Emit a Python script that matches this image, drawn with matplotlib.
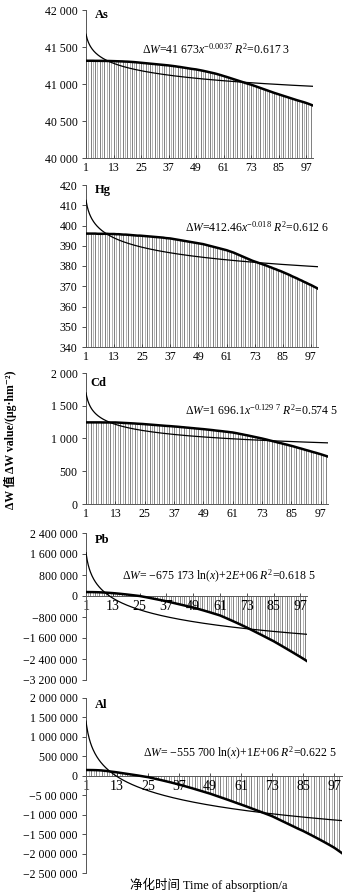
import numpy as np
import matplotlib.pyplot as plt

plt.rcParams['font.family'] = ['Liberation Serif', 'Noto Sans CJK SC', 'DejaVu Serif']
plt.rcParams['mathtext.fontset'] = 'custom'
plt.rcParams['mathtext.rm'] = 'Liberation Serif'
plt.rcParams['mathtext.it'] = 'Liberation Serif:italic'

# 净化时间 (a)
years = np.arange(1, 101)
xticks = [1, 13, 25, 37, 49, 61, 73, 85, 97]

# ΔW values
as_vals = [41314, 41314, 41314, 41314, 41313, 41313, 41313, 41312, 41312, 41311, 41311, 41310,
           41309, 41308, 41307, 41306, 41305, 41303, 41302, 41300, 41298, 41296, 41293, 41290,
           41287, 41284, 41281, 41278, 41275, 41272, 41269, 41266, 41263, 41260, 41257, 41254,
           41251, 41247, 41243, 41239, 41234, 41230, 41225, 41220, 41215, 41210, 41205, 41201,
           41197, 41191, 41185, 41179, 41172, 41165, 41158, 41151, 41144, 41136, 41127, 41118,
           41108, 41099, 41089, 41079, 41069, 41059, 41049, 41039, 41029, 41019, 41009, 41000,
           40991, 40980, 40969, 40958, 40947, 40936, 40925, 40914, 40903, 40892, 40881, 40871,
           40861, 40851, 40841, 40831, 40821, 40811, 40801, 40791, 40781, 40772, 40763, 40754,
           40744, 40733, 40721, 40709]

hg_vals = [396.0, 396.0, 396.0, 396.0, 396.0, 395.9, 395.9, 395.9, 395.9, 395.9, 395.8, 395.8,
           395.8, 395.7, 395.7, 395.6, 395.5, 395.5, 395.4, 395.3, 395.2, 395.1, 395.0, 395.0,
           394.9, 394.8, 394.7, 394.6, 394.5, 394.4, 394.3, 394.2, 394.1, 394.0, 393.8, 393.7,
           393.6, 393.4, 393.2, 393.0, 392.8, 392.6, 392.4, 392.2, 392.0, 391.8, 391.6, 391.4,
           391.2, 391.0, 390.8, 390.5, 390.2, 389.9, 389.6, 389.3, 389.0, 388.7, 388.4, 388.1,
           387.8, 387.4, 387.0, 386.6, 386.1, 385.6, 385.1, 384.6, 384.1, 383.6, 383.1, 382.6,
           382.2, 381.8, 381.4, 381.0, 380.6, 380.2, 379.7, 379.3, 378.8, 378.4, 377.9, 377.5,
           377.0, 376.5, 376.0, 375.5, 374.9, 374.4, 373.9, 373.3, 372.8, 372.2, 371.7, 371.1,
           370.6, 370.0, 369.4, 368.8]

cd_vals = [1246, 1246, 1246, 1246, 1246, 1246, 1246, 1245, 1245, 1245, 1245, 1245,
           1245, 1243, 1241, 1239, 1237, 1235, 1233, 1231, 1229, 1226, 1224, 1222,
           1219, 1216, 1213, 1210, 1207, 1204, 1201, 1198, 1195, 1192, 1190, 1187,
           1184, 1181, 1178, 1174, 1171, 1167, 1164, 1160, 1157, 1153, 1150, 1146,
           1143, 1139, 1135, 1131, 1127, 1122, 1118, 1114, 1110, 1105, 1101, 1096,
           1092, 1085, 1078, 1070, 1063, 1055, 1048, 1040, 1032, 1024, 1016, 1008,
           1000, 991, 982, 972, 963, 954, 944, 935, 926, 916, 907, 897,
           888, 878, 867, 856, 846, 835, 824, 814, 803, 792, 782, 771,
           760, 748, 736, 724]

pb_vals = [150000, 150000, 149000, 148000, 146000, 144000, 141000, 137000, 133000, 128000, 122000, 116000,
           110000, 103000, 95000, 87000, 78000, 69000, 60000, 50000, 40000, 30000, 20000, 10000,
           0, -16000, -32000, -48000, -64000, -81000, -98000, -115000, -132000, -149000, -166000, -183000,
           -200000, -220000, -240000, -260000, -280000, -300000, -320000, -340000, -360000, -380000, -400000, -420000,
           -440000, -463000, -486000, -510000, -534000, -559000, -584000, -609000, -635000, -661000, -687000, -713000,
           -740000, -776000, -813000, -850000, -888000, -926000, -964000, -1002000, -1041000, -1080000, -1120000, -1160000,
           -1200000, -1243000, -1286000, -1329000, -1372000, -1415000, -1458000, -1501000, -1545000, -1589000, -1633000, -1677000,
           -1720000, -1769000, -1818000, -1867000, -1917000, -1967000, -2017000, -2067000, -2117000, -2168000, -2219000, -2270000,
           -2320000, -2373000, -2426000, -2480000]

al_vals = [148000, 148000, 147000, 146000, 144000, 141000, 137000, 130000, 123000, 114000, 105000, 97000,
           88000, 78000, 68000, 58000, 48000, 38000, 28000, 18000, 8000, -3000, -14000, -25000,
           -35000, -50000, -65000, -80000, -95000, -110000, -126000, -142000, -158000, -174000, -191000, -208000,
           -225000, -244000, -263000, -282000, -301000, -320000, -340000, -360000, -380000, -400000, -420000, -440000,
           -460000, -483000, -506000, -529000, -552000, -575000, -598000, -621000, -645000, -669000, -693000, -717000,
           -740000, -764000, -788000, -813000, -838000, -863000, -888000, -913000, -938000, -963000, -988000, -1014000,
           -1040000, -1072000, -1104000, -1136000, -1168000, -1200000, -1232000, -1264000, -1296000, -1328000, -1360000, -1390000,
           -1420000, -1454000, -1488000, -1522000, -1557000, -1592000, -1627000, -1663000, -1699000, -1736000, -1773000, -1811000,
           -1850000, -1896000, -1943000, -1990000]

# trend lines shown on the chart
as_fit = (41673, -0.0037)      # power
hg_fit = (412.46, -0.018)      # power
cd_fit = (1696.1, -0.1297)     # power
pb_fit = (-675173, 1650000)    # log
al_fit = (-555700, 1406000)    # log

as_yticks = [40000, 40500, 41000, 41500, 42000]
as_ylabels = ['40 000', '40 500', '41 000', '41 500', '42 000']
hg_yticks = [340, 350, 360, 370, 380, 390, 400, 410, 420]
hg_ylabels = ['340', '350', '360', '370', '380', '390', '400', '410', '420']
cd_yticks = [0, 500, 1000, 1500, 2000]
cd_ylabels = ['0', '500', '1 000', '1 500', '2 000']
pb_yticks = [-3200000, -2400000, -1600000, -800000, 0, 800000, 1600000, 2400000]
pb_ylabels = ['\u22123 200 000', '\u22122 400 000', '\u22121 600 000', '\u2212800 000', '0',
              '800 000', '1 600 000', '2 400 000']
al_yticks = [-2500000, -2000000, -1500000, -1000000, -500000, 0, 500000, 1000000, 1500000, 2000000]
al_ylabels = ['\u22122 500 000', '\u22122 000 000', '\u22121 500 000', '\u22121 000 000', '\u22125 00 000', '0',
              '500 000', '1 000 000', '1 500 000', '2 000 000']

as_eq = r'$\Delta W$=41 673$x^{-0.0037}$ $R^2$=0.617 3'
hg_eq = r'$\Delta W$=412.46$x^{-0.018}$ $R^2$=0.612 6'
cd_eq = r'$\Delta W$=1 696.1$x^{-0.129\ 7}$ $R^2$=0.574 5'
pb_eq = r'$\Delta W$= $-$675 173 ln($x$)+2$E$+06 $R^2$=0.618 5'
al_eq = r'$\Delta W$= $-$555 700 ln($x$)+1$E$+06 $R^2$=0.622 5'

W, H = 353, 896
fig = plt.figure(figsize=(W / 100, H / 100), dpi=100)

panels = [
    # name, values, kind, fit, yticks, labels, (left, right, top, bottom) px, eq, eq pos, name pos
    ('As', as_vals, 'pow', as_fit, as_yticks, as_ylabels, (86, 313, 10, 158), as_eq, (142, 49), (95, 15)),
    ('Hg', hg_vals, 'pow', hg_fit, hg_yticks, hg_ylabels, (86, 318, 185, 347), hg_eq, (185, 227), (95, 190)),
    ('Cd', cd_vals, 'pow', cd_fit, cd_yticks, cd_ylabels, (86, 328, 373, 504), cd_eq, (185, 410), (90, 383)),
    ('Pb', pb_vals, 'log', pb_fit, pb_yticks, pb_ylabels, (86, 307, 533, 680), pb_eq, (122, 576), (95, 540)),
    ('Al', al_vals, 'log', al_fit, al_yticks, al_ylabels, (86, 342, 698, 873), al_eq, (143, 753), (95, 705)),
]

xs = np.linspace(1, 100, 400)
for name, vals, kind, fit, yt, yl, box, eq, eqpos, npos in panels:
    l, r, t, b = box
    ax = fig.add_axes([l / W, 1 - b / H, (r - l) / W, (b - t) / H])
    vals = np.array(vals, dtype=float)
    lo = yt[0]
    base = lo if lo > 0 else 0
    # thin columns, alternating grey shades like the scanned figure
    ax.vlines(years[::2], base, vals[::2], colors='#6a6a6a', lw=0.6, zorder=1)
    ax.vlines(years[1::2], base, vals[1::2], colors='#a8a8a8', lw=0.6, zorder=1)
    ax.plot(years, vals, color='black', lw=1.8, zorder=3)
    if kind == 'pow':
        trend = fit[0] * xs ** fit[1]
    else:
        trend = fit[0] * np.log(xs) + fit[1]
    ax.plot(xs, trend, color='black', lw=0.9, zorder=3)

    ax.set_xlim(1, 100)
    ax.set_ylim(yt[0], yt[-1])
    ax.set_yticks(yt)
    ax.set_yticklabels(yl, fontsize=8.5)
    ax.set_xticks(xticks)
    ax.set_xticklabels([str(v) for v in xticks], fontsize=8.5)
    ax.tick_params(axis='y', direction='out', length=3, width=0.6, pad=3, colors='#333333', labelcolor='black')
    ax.tick_params(axis='x', direction='in', length=2.5, width=0.6, pad=3, colors='#333333', labelcolor='black')
    for s in ['top', 'right']:
        ax.spines[s].set_visible(False)
    for s in ['left', 'bottom']:
        ax.spines[s].set_color('#555555')
        ax.spines[s].set_linewidth(0.7)
    if base == 0 and lo < 0:
        ax.spines['bottom'].set_position(('data', 0))
    ax.patch.set_visible(False)

    fig.text(npos[0] / W, 1 - npos[1] / H, name, fontsize=9, fontweight='bold', ha='left', va='center')
    fig.text(eqpos[0] / W, 1 - eqpos[1] / H, eq, fontsize=8.5, ha='left', va='center')

fig.text(10 / W, 1 - 440 / H, '\u0394W 值 \u0394W value/(\u03bcg\u00b7hm\u207b\u00b2)', rotation=90,
         fontsize=8.5, fontweight='bold', ha='center', va='center')
fig.text(209 / W, 1 - 885 / H, '净化时间 Time of absorption/a', fontsize=9, ha='center', va='center')

fig.savefig('out.png', dpi=100)
